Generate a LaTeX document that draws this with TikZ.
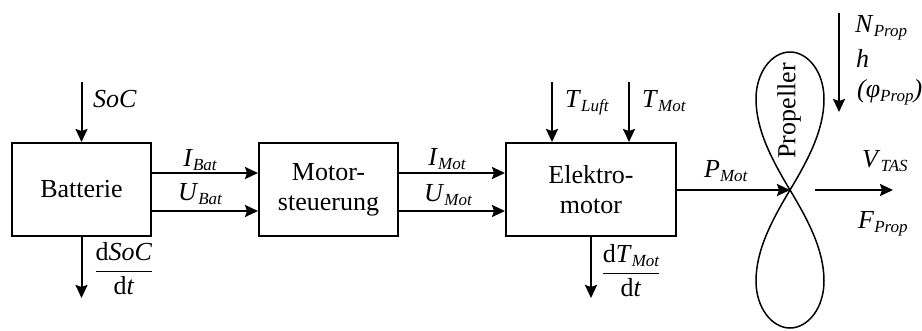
\documentclass[tikz,border=0pt]{standalone}
\usepackage{fontspec}
\setmainfont{Liberation Serif}
\usepackage{amsmath}
\usetikzlibrary{arrows.meta}
\newcommand{\idx}[1]{\raisebox{-4pt}{\fontsize{17}{17}\selectfont\itshape #1}}
\newcommand{\lbl}[2]{\textit{#1}\idx{#2}}
\newcommand{\dfr}[2]{$\genfrac{}{}{1.5pt}{0}{\text{#1}}{\text{#2}}$}
\tikzset{
  flow/.style={line width=2pt, -{Stealth[length=13pt,width=12pt,inset=2pt]}},
  block/.style={draw, line width=2pt, minimum height=93pt, align=center, font=\fontsize{26}{30}\selectfont},
  lab/.style={font=\fontsize{26}{30}\selectfont, inner sep=0pt}
}
\begin{document}
\begin{tikzpicture}[x=1pt, y=-1pt]
  \useasboundingbox (0,0) rectangle (922,330);

  \node[block, minimum width=139pt] (bat) at (81.5,189.5) {Batterie};
  \node[block, minimum width=139pt] (ctrl) at (328.5,189.5) {Motor-\\steuerung};
  \node[block, minimum width=170pt] (mot) at (591,189.5) {Elektro-\\motor};

  \coordinate (socin) at (81.5,82);
  \coordinate (socout) at (81.5,298);
  \draw[flow] (socin) -- (bat.north);
  \draw[flow] (bat.south) -- (socout);
  \node[lab, anchor=base west] (soc) at (93,107) {\textit{SoC}};
  \node[lab] (dsoc) at (124,269) {\dfr{d\textit{SoC}}{d\textit{t}}};

  \draw[flow] ([yshift=16.5pt]bat.east) -- ([yshift=16.5pt]ctrl.west);
  \draw[flow] ([yshift=-21.5pt]bat.east) -- ([yshift=-21.5pt]ctrl.west);
  \node[lab, anchor=base] (ibat) at (200,166) {\lbl{I}{Bat}};
  \node[lab, anchor=base] (ubat) at (200,200) {\lbl{U}{Bat}};

  \draw[flow] ([yshift=16.5pt]ctrl.east) -- ([yshift=16.5pt]mot.west);
  \draw[flow] ([yshift=-21.5pt]ctrl.east) -- ([yshift=-21.5pt]mot.west);
  \node[lab, anchor=base] (imot) at (447,165) {\lbl{I}{Mot}};
  \node[lab, anchor=base] (umot) at (448,201) {\lbl{U}{Mot}};

  \coordinate (tluft) at (552,82);
  \coordinate (tmot) at (629,82);
  \coordinate (dtout) at (591,298);
  \draw[flow] (tluft) -- (tluft |- mot.north);
  \draw[flow] (tmot) -- (tmot |- mot.north);
  \draw[flow] (mot.south) -- (dtout);
  \node[lab, anchor=base west] (tluftl) at (565,107) {\lbl{T}{Luft}};
  \node[lab, anchor=base west] (tmotl) at (642,107) {\lbl{T}{Mot}};
  \node[lab] (dtmot) at (631,271) {\dfr{d\lbl{T}{Mot}}{d\textit{t}}};

  \coordinate (prop) at (790,190);
  \draw[flow] (mot.east |- prop) -- (prop);
  \node[lab, anchor=base west] (pmot) at (704,177) {\lbl{P}{Mot}};
  \draw[line width=1.5pt] (prop) .. controls (772,160) and (756,130) .. (756,99)
    .. controls (756,72) and (772,52) .. (790,52)
    .. controls (808,52) and (824,72) .. (824,99)
    .. controls (824,130) and (808,160) .. (prop)
    .. controls (772,220) and (756,250) .. (756,281)
    .. controls (756,308) and (772,328) .. (790,328)
    .. controls (808,328) and (824,308) .. (824,281)
    .. controls (824,250) and (808,220) .. (prop);
  \node[lab, rotate=90] (propl) at (789,111) {Propeller};

  \coordinate (nin) at (839,13);
  \coordinate (nout) at (839,112);
  \draw[flow] (nin) -- (nout);
  \node[lab, anchor=base west] (nprop) at (855,32) {\lbl{N}{Prop}};
  \node[lab, anchor=base west] (h) at (856,67) {\textit{h}};
  \node[lab, anchor=base west] (phi) at (857,97) {\textit{(φ}\idx{Prop}\textit{)}};

  \coordinate (vin) at (815,190);
  \coordinate (vout) at (893,190);
  \draw[flow] (vin) -- (vout);
  \node[lab, anchor=base west] (vtas) at (862,167) {\lbl{V}{TAS}};
  \node[lab, anchor=base west] (fprop) at (858,228) {\lbl{F}{Prop}};
\end{tikzpicture}
\end{document}
